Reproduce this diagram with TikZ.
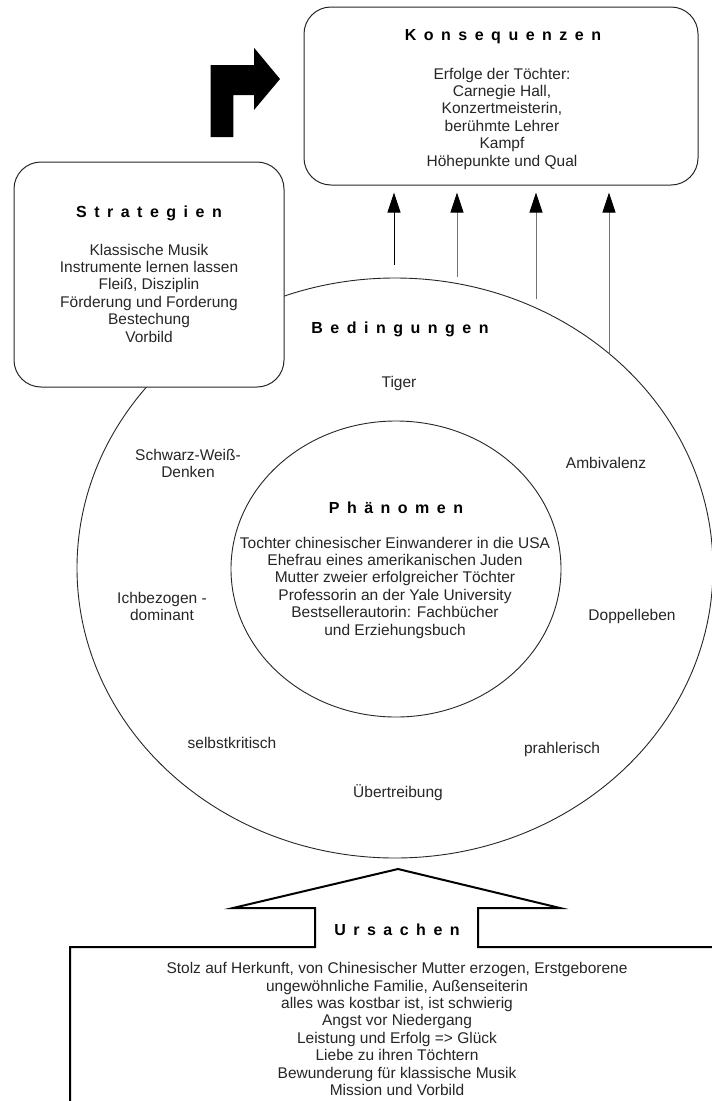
\documentclass[tikz,border=0pt]{standalone}
\usepackage{fontspec}
\setmainfont{Liberation Sans}
\usetikzlibrary{arrows.meta,shapes.geometric}

% letter-spaced headings: \spread{Word}
\def\spread#1{\spreadfirst#1\relax}
\def\spreadfirst#1{#1\spreadrest}
\def\spreadrest#1{\ifx\relax#1\else\kern7.5pt #1\expandafter\spreadrest\fi}

\begin{document}
\begin{tikzpicture}[x=1pt,y=-1pt,
  every node/.style={inner sep=0pt, text=black!85,
    font=\fontsize{15.5}{17.4}\selectfont},
  ring/.style={draw=black!85, line width=0.9pt, ellipse},
  rbox/.style={draw=black!85, line width=1pt, rounded corners=27pt,
    fill=white, rectangle},
  heading/.style={text=black, font=\fontsize{16}{18}\selectfont\bfseries},
  body/.style={align=center},
  arr/.style={-{Triangle[width=13pt,length=20pt,color=black]}, line width=1pt,
    draw=black!55, shorten >=7pt},
  thickline/.style={line width=2pt, draw=black, line join=miter}
]
\useasboundingbox (0,0) rectangle (712,1101);
\fill[white] (0,0) rectangle (712,1101);

% conditions ring and phenomenon ring
\node[ring, minimum width=636, minimum height=580] (bed) at (395,568) {};
\node[ring, minimum width=330, minimum height=296] (phae) at (396,569) {};

% rounded boxes
\node[rbox, minimum width=394, minimum height=178] (kons) at (501,96) {};
\node[rbox, minimum width=270, minimum height=225] (strat) at (149,274.5) {};

% bent arrow pointing to the consequences
\fill[black] (210.7,137) -- (210.7,65) -- (254,65) -- (254,47.7) -- (280,79)
  -- (254,110) -- (254,95) -- (233.3,95) -- (233.3,137) -- cycle;

% Konsequenzen
\node[heading] (konsT) at (503,37) {\spread{Konsequenzen}};
\node[body] (konsB) at (502,118.5) {Erfolge der Töchter:\\Carnegie Hall,\\Konzertmeisterin,\\berühmte Lehrer\\Kampf\\Höhepunkte und Qual};

% Strategien
\node[heading] (stratT) at (149,213) {\spread{Strategien}};
\node[body] (stratB) at (149,293) {Klassische Musik\\Instrumente lernen lassen\\Fleiß, Disziplin\\Förderung und Forderung\\Bestechung\\Vorbild};

% arrows from the conditions to the consequences
\coordinate (t1) at (394,265);
\coordinate (t2) at (457,277);
\coordinate (t3) at (536,299);
\coordinate (t4) at (609,353);
\draw[arr, draw=black] (t1) -- (t1 |- kons.south);
\draw[arr] (t2) -- (t2 |- kons.south);
\draw[arr] (t3) -- (t3 |- kons.south);
\draw[arr] (t4) -- (t4 |- kons.south);

% Bedingungen
\node[heading] (bedT) at (400,329) {\spread{Bedingungen}};
\node (tiger) at (399,383) {Tiger};
\node[body] (sw) at (188,463.5) {Schwarz-Weiß-\\Denken};
\node (amb) at (606,463) {Ambivalenz};
\node[body] (ich) at (162,606.5) {Ichbezogen -\\dominant};
\node (dop) at (632,616) {Doppelleben};
\node (selbst) at (232,743) {selbstkritisch};
\node (prahl) at (562,749) {prahlerisch};
\node (ueber) at (398,793) {Übertreibung};

% Phänomen
\node[heading] (phaeT) at (396,508) {\spread{Phänomen}};
\node[body] (phaeB) at (395,587.5) {Tochter chinesischer Einwanderer in die USA\\Ehefrau eines amerikanischen Juden\\Mutter zweier erfolgreicher Töchter\\Professorin an der Yale University\\Bestsellerautorin: Fachbücher\\und Erziehungsbuch};

% Ursachen: block arrow pointing up
\draw[thickline] (70,1101) -- (70,947) -- (315,947) -- (315,908) -- (233,908)
  -- (398,869) -- (560,908) -- (478,908) -- (478,947) -- (712,947);
\node[heading] (ursT) at (397,930) {\spread{Ursachen}};
\node[body] (ursB) at (397,1029) {Stolz auf Herkunft, von Chinesischer Mutter erzogen, Erstgeborene\\ungewöhnliche Familie, Außenseiterin\\alles was kostbar ist, ist schwierig\\Angst vor Niedergang\\Leistung und Erfolg => Glück\\Liebe zu ihren Töchtern\\Bewunderung für klassische Musik\\Mission und Vorbild};
\end{tikzpicture}
\end{document}
